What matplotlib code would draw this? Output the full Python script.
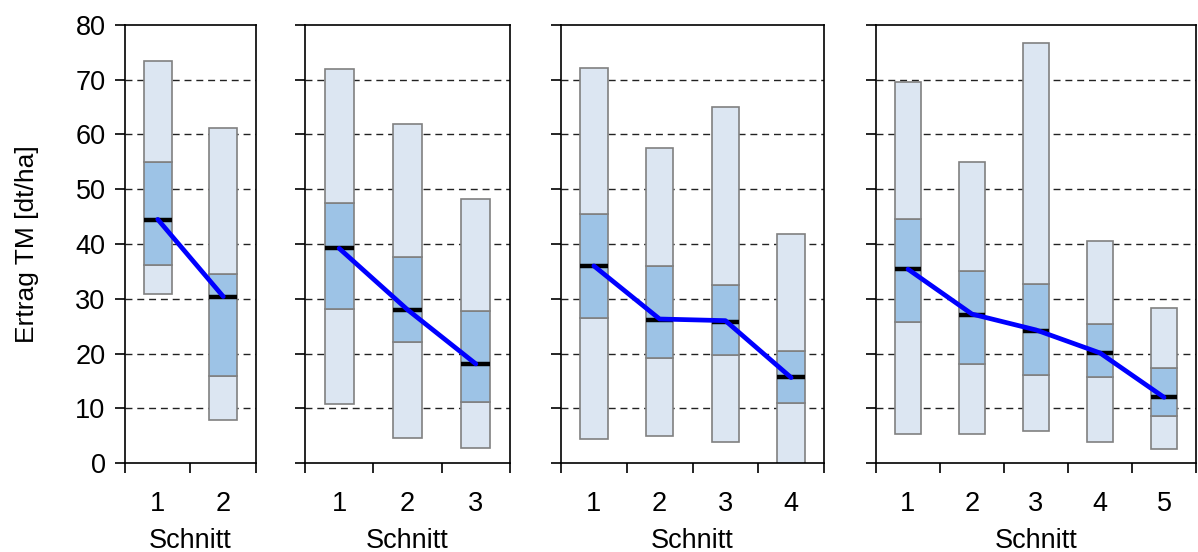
import numpy as np
import matplotlib
matplotlib.use("Agg")
import matplotlib.pyplot as plt

plt.rcParams['font.family'] = ['Liberation Sans', 'DejaVu Sans']

# Werte je Panel (Anzahl Schnitte 2, 3, 4, 5)
mins = [[30.8, 7.8], [10.8, 4.5, 2.8], [4.3, 5.0, 3.8, -1.0], [5.3, 5.3, 5.9, 3.9, 2.5]]
q1s = [[36.2, 15.8], [28.1, 22.1, 11.2], [26.4, 19.2, 19.7, 11.0], [25.8, 18.0, 16.0, 15.7, 8.5]]
medians = [[44.4, 30.4], [39.3, 28.0, 18.1], [36.0, 26.2, 25.8, 15.7], [35.4, 27.1, 24.2, 20.1, 12.0]]
q3s = [[54.9, 34.5], [47.5, 37.6, 27.8], [45.4, 35.9, 32.5, 20.5], [44.5, 35.0, 32.7, 25.3, 17.4]]
maxs = [[73.5, 61.1], [72.0, 61.9, 48.3], [72.2, 57.5, 65.1, 41.9], [69.5, 55.0, 76.7, 40.6, 28.4]]
means = [[44.5, 30.4], [39.2, 28.0, 18.1], [36.0, 26.3, 26.0, 15.6], [35.4, 27.2, 24.3, 20.1, 12.0]]
y_ticks = [0, 10, 20, 30, 40, 50, 60, 70, 80]

light = '#DCE6F2'
dark = '#9DC3E6'
edge = '#808080'
fs = 19.5

fig = plt.figure(figsize=(11.98, 5.52), dpi=100)
# Achsenpositionen in Pixel (links, Breite)
panel_px = [(125, 131), (305, 205), (561, 263), (876, 320)]
bottom = 89 / 552
height = 438 / 552
w = 0.42

for i, (left, width) in enumerate(panel_px):
    ax = fig.add_axes([left / 1198, bottom, width / 1198, height])
    n = len(medians[i])
    x = np.arange(1, n + 1)
    lo = np.array(mins[i])
    a = np.array(q1s[i])
    b = np.array(q3s[i])
    hi = np.array(maxs[i])

    # Gitterlinien
    for t in y_ticks[1:-1]:
        ax.axhline(t, color='#222222', lw=1.0, ls=(0, (5, 3.5)), zorder=1)

    ax.bar(x, a - lo, bottom=lo, width=w, color=light, edgecolor=edge, lw=1.2, zorder=2)
    ax.bar(x, b - a, bottom=a, width=w, color=dark, edgecolor=edge, lw=1.2, zorder=2)
    ax.bar(x, hi - b, bottom=b, width=w, color=light, edgecolor=edge, lw=1.2, zorder=2)
    ax.hlines(medians[i], x - w / 2, x + w / 2, colors='black', lw=3.2, zorder=3)
    ax.plot(x, means[i], color='#0000FF', lw=3.4, solid_capstyle='round', zorder=4)

    ax.set_xlim(0.5, n + 0.5)
    ax.set_ylim(0, 80)
    ax.set_yticks(y_ticks)
    ax.set_xticks(np.arange(0.5, n + 1, 1.0))
    ax.set_xticklabels([])
    ax.set_xticks(x, minor=True)
    ax.set_xticklabels([str(k) for k in x], minor=True, fontsize=fs)
    ax.tick_params(axis='x', which='minor', length=0, pad=20)
    ax.tick_params(axis='x', which='major', length=7, width=1.2)
    ax.tick_params(axis='y', length=7, width=1.2, labelsize=fs, pad=7)
    ax.set_xlabel('Schnitt', fontsize=fs, labelpad=8)
    for s in ax.spines.values():
        s.set_linewidth(1.2)
    if i == 0:
        ax.set_ylabel('Ertrag TM [dt/ha]', fontsize=19)
        ax.yaxis.set_label_coords(-0.655, 0.5)
    else:
        ax.set_yticklabels([])

fig.savefig('out.png', dpi=100)
